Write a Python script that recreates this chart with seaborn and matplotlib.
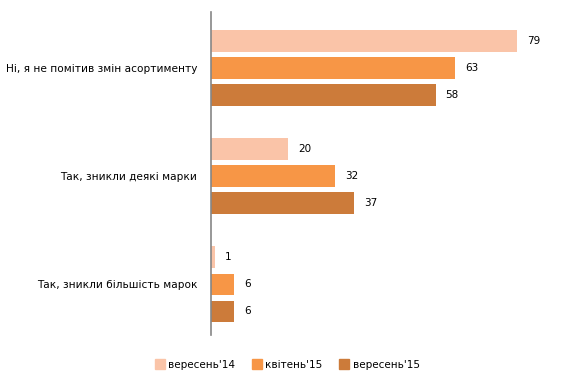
import matplotlib.pyplot as plt
import seaborn as sns
import pandas as pd

categories = ['Ні, я не помітив змін асортименту', 'Так, зникли деякі марки', 'Так, зникли більшість марок']
series = ['вересень\'14', 'квітень\'15', 'вересень\'15']
sep14 = [79, 20, 1]
apr15 = [63, 32, 6]
sep15 = [58, 37, 6]
colors = ['#FAC4A8', '#F79646', '#CC7B3A']

rows = []
for name, vals in zip(series, [sep14, apr15, sep15]):
    for cat, v in zip(categories, vals):
        rows.append({'category': cat, 'period': name, 'value': v})
df = pd.DataFrame(rows)

sns.set_style('white')
plt.rcParams['font.family'] = ['DejaVu Sans']
plt.rcParams['text.color'] = '#000000'
plt.rcParams['ytick.color'] = '#000000'

fig = plt.figure(figsize=(5.74, 3.83), dpi=100)
ax = fig.add_axes([0.3676, 0.125, 0.6074, 0.844])

sns.barplot(data=df, y='category', x='value', hue='period', order=categories,
            hue_order=series, palette=colors, orient='h', width=0.75, gap=0.2,
            saturation=1, linewidth=0, ax=ax, legend=False)

for cont in ax.containers:
    ax.bar_label(cont, padding=7, fontsize=7.5, color='#000000')

ax.set_xlim(0, 90)
ax.set_ylim(2.47, -0.52)
ax.set_xlabel('')
ax.set_ylabel('')
ax.set_xticks([])
ax.tick_params(axis='y', length=0, pad=10, labelsize=7.6, labelcolor='#000000')
for s in ['top', 'right', 'bottom']:
    ax.spines[s].set_visible(False)
ax.spines['left'].set_color('#868686')
ax.spines['left'].set_linewidth(1.2)

handles = [plt.Line2D([], [], marker='s', linestyle='', markersize=7,
                      markerfacecolor=c, markeredgecolor=c) for c in colors]
fig.legend(handles, series, loc='lower center', bbox_to_anchor=(0.5, 0.01),
           ncol=3, frameon=False, fontsize=7.5, handletextpad=0.3,
           columnspacing=1.6, handlelength=1.0, labelcolor='#000000')

fig.savefig('out.png', dpi=100)
